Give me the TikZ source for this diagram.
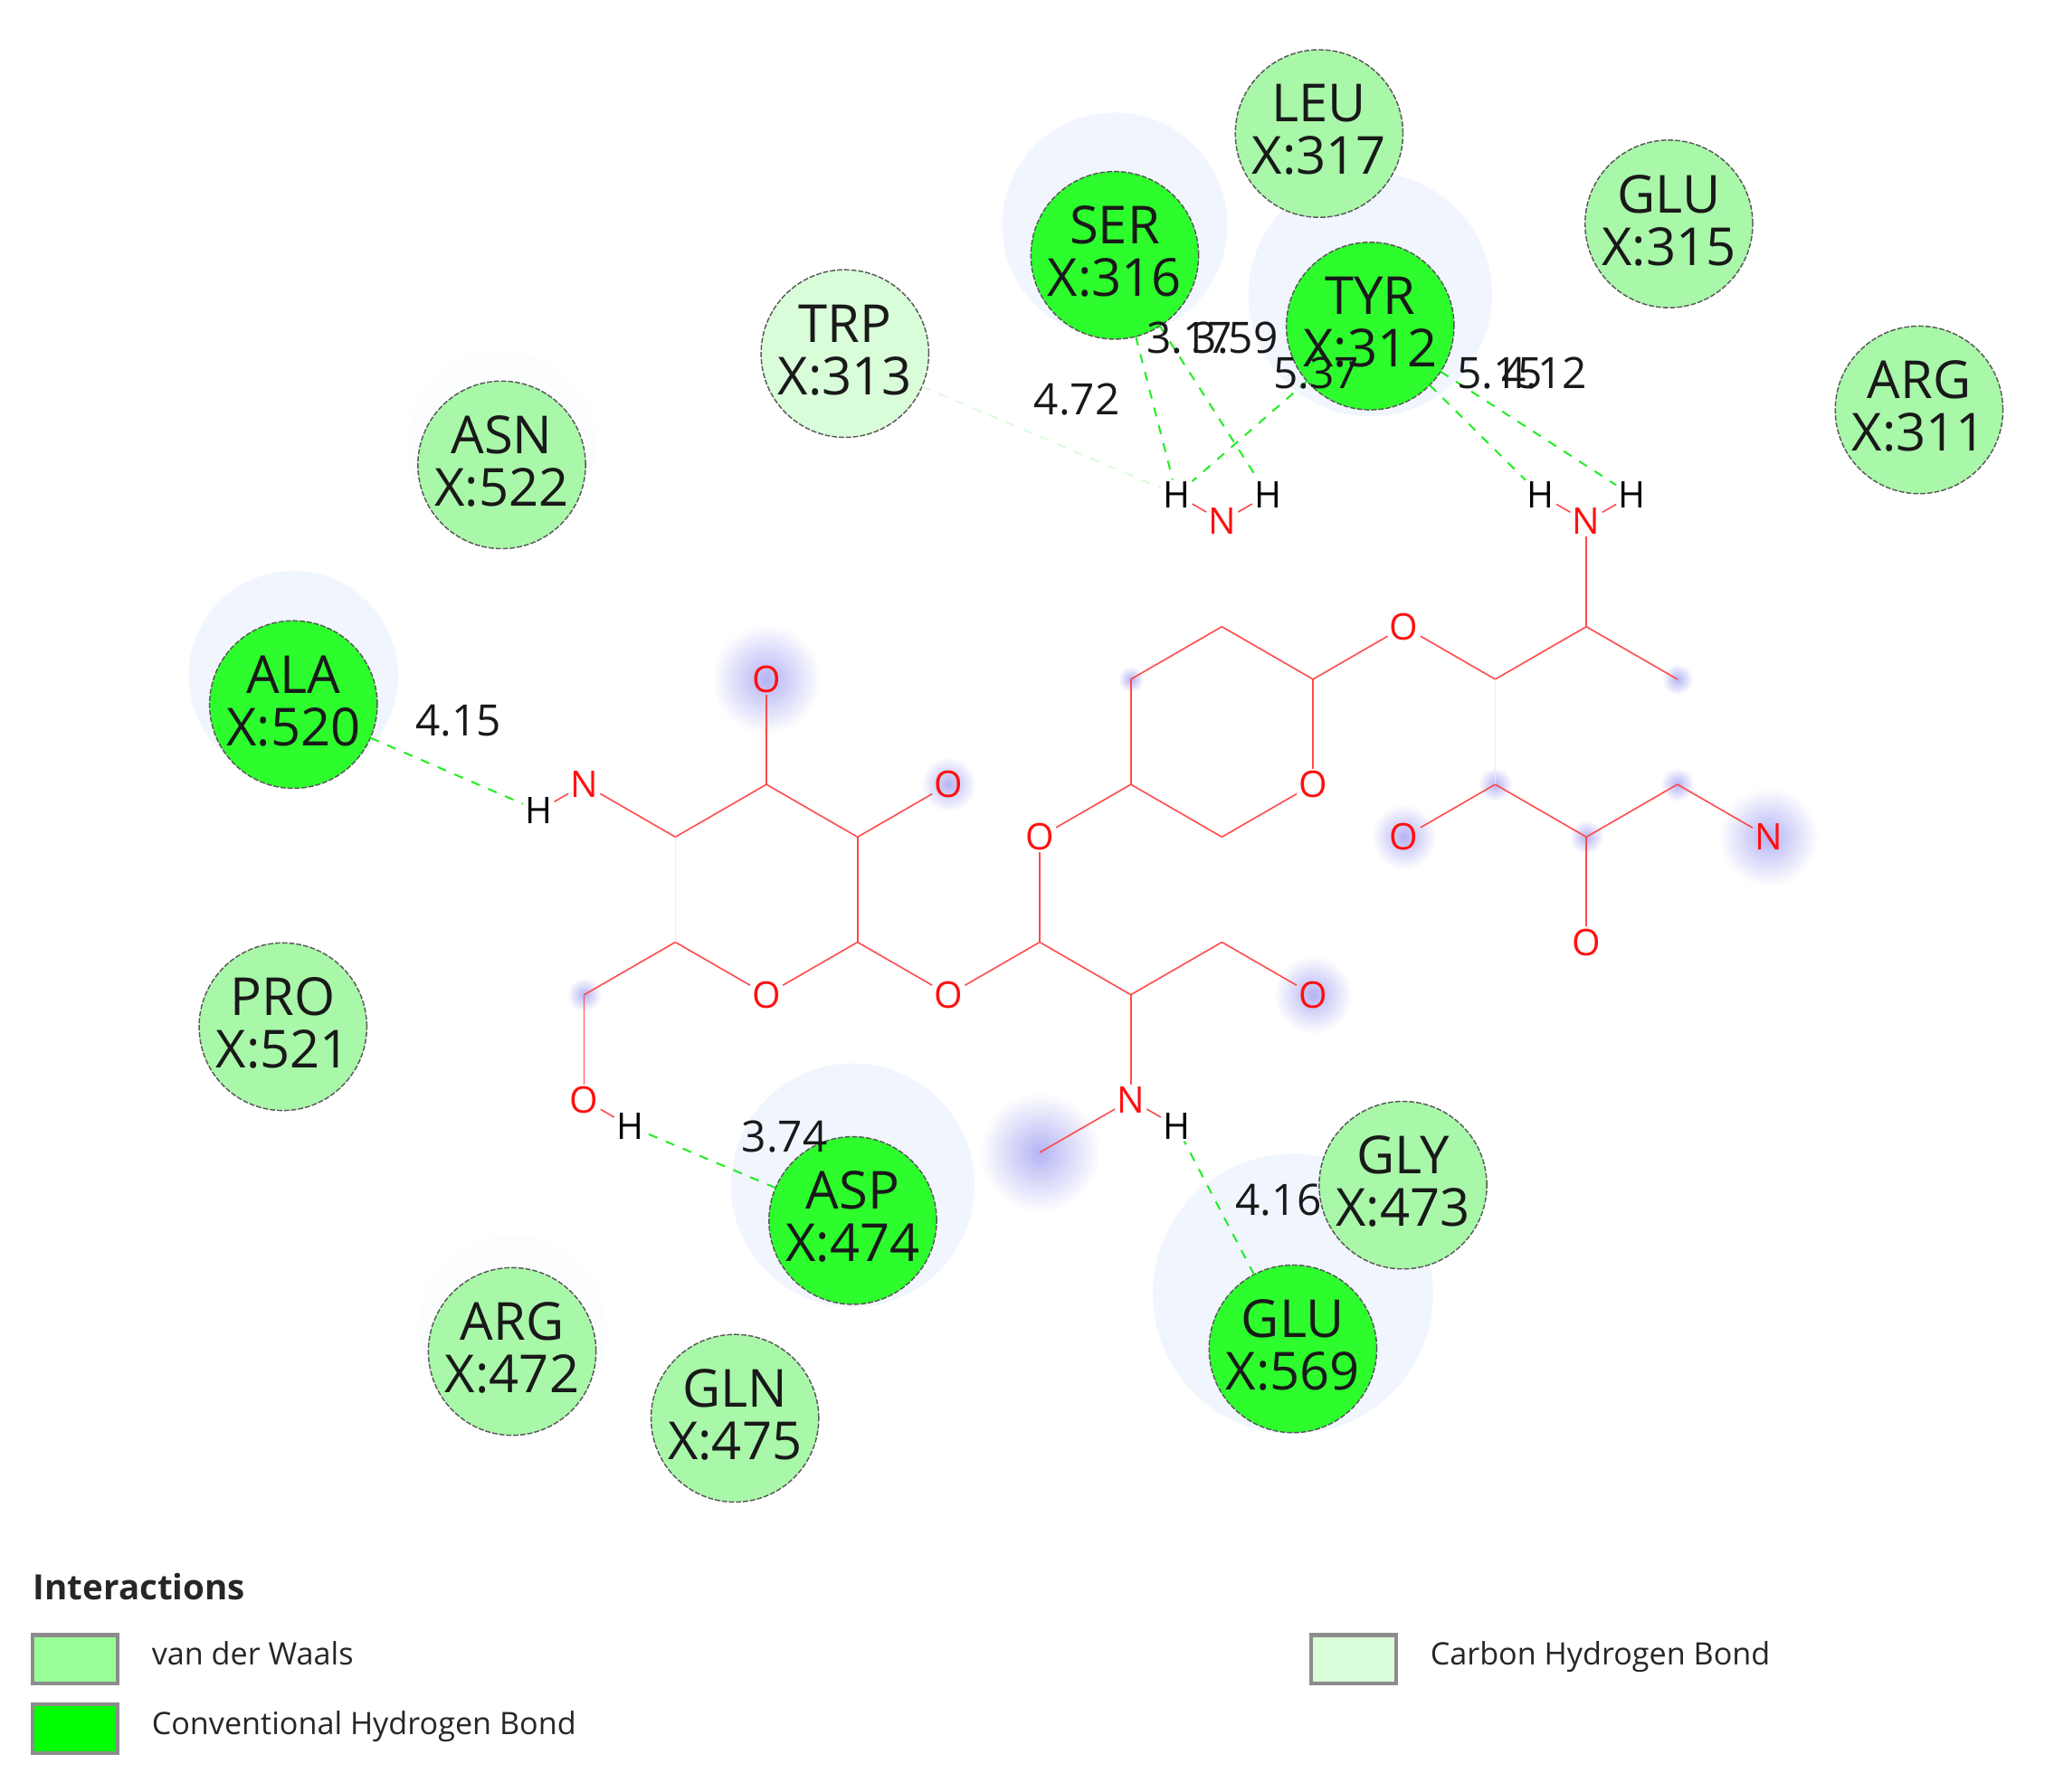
\documentclass[tikz,border=0pt]{standalone}
\usepackage{fontspec}
\setmainfont{Open Sans}
\usetikzlibrary{positioning,backgrounds}
\definecolor{vdwFill}{HTML}{A9F7A9}
\definecolor{vdwSwatch}{HTML}{99FF99}
\definecolor{hbondFill}{HTML}{2DFC2D}
\definecolor{carbonFill}{HTML}{D9FCD9}
\definecolor{haloFill}{HTML}{F1F5FE}
\definecolor{haloFaint}{HTML}{FCFDFF}
\definecolor{glowBlue}{HTML}{B4B4F4}
\definecolor{bondRed}{HTML}{FF4A4A}
\definecolor{bondPale}{HTML}{FFE4E4}
\definecolor{atomRed}{HTML}{FF1010}
\definecolor{dashGreen}{HTML}{22EE22}
\definecolor{dashPale}{HTML}{DDFADD}
\newdimen\bondDist
\bondDist=40.15pt

\begin{document}
\begin{tikzpicture}[
    x=0.5pt,y=0.5pt,
    residue/.style={%
      draw=black!65,
      circle,
      dash pattern=on 2pt off 0.7pt,
      line width=0.5pt,
      minimum size=64pt,
      inner sep=0pt,
      outer sep=0pt,
      align=center,
      text=black!90,
      text depth=3pt,
      font=\fontsize{20}{20}\selectfont,
    },
    resVdw/.style={residue,fill=vdwFill},
    resHbond/.style={residue,fill=hbondFill},
    resCarbon/.style={residue,fill=carbonFill},
    halo/.style={%
      circle,
      fill=haloFill,
      inner sep=0pt,
    },
    faintHalo/.style={halo,fill=haloFaint},
    glow/.style={%
      circle,
      inner sep=0pt,
      shade,
      inner color=glowBlue,
      outer color=white,
    },
    atom/.style={%
      inner sep=0.6pt,
      text=atomRed,
      font=\fontsize{14}{14}\selectfont,
    },
    hydrogen/.style={atom,text=black},
    carbon/.style={%
      inner sep=0pt,
      minimum size=0pt,
      outer sep=0pt,
    },
    bond/.style={%
      draw=bondRed,
      line width=0.55pt,
    },
    paleBond/.style={bond,draw=bondPale},
    hbond/.style={%
      draw=dashGreen,
      line width=0.7pt,
      dash pattern=on 3.5pt off 3.5pt,
    },
    chbond/.style={hbond,draw=dashPale},
    dist/.style={%
      inner sep=0pt,
      text=black!90,
      font=\fontsize{16.5}{16.5}\selectfont,
    },
    swatch/.style={%
      draw=black!45,
      rectangle,
      line width=1.5pt,
      minimum width=32.5pt,
      minimum height=18.5pt,
      inner sep=0pt,
    },
    legendText/.style={%
      inner sep=0pt,
      text height=9pt,
      text depth=2.5pt,
      yshift=1pt,
      text=black!85,
      font=\fontsize{11.8}{12}\selectfont,
    },
  ]

    \useasboundingbox (0,0) rectangle (1568,1368);

    \node [resVdw] (LEU) at (1007,1266) {LEU\\X:317};
    \node [resVdw] (GLUa) at (1274,1197) {GLU\\X:315};
    \node [resVdw] (ARGa) at (1465,1055) {ARG\\X:311};
    \node [resHbond] (TYR) at (1046,1119) {TYR\\X:312};
    \node [resHbond] (SER) at (851,1173) {SER\\X:316};
    \node [resCarbon] (TRP) at (645,1098) {TRP\\X:313};
    \node [resVdw] (ASN) at (383,1013) {ASN\\X:522};
    \node [resHbond] (ALA) at (224,830) {ALA\\X:520};
    \node [resVdw] (PRO) at (216,584) {PRO\\X:521};
    \node [resHbond] (ASP) at (651,436) {ASP\\X:474};
    \node [resVdw] (ARGb) at (391,336) {ARG\\X:472};
    \node [resVdw] (GLN) at (561,285) {GLN\\X:475};
    \node [resVdw] (GLY) at (1071,463) {GLY\\X:473};
    \node [resHbond] (GLUb) at (987,338) {GLU\\X:569};

    \node [atom] (N1) at (446,769) {N};
    \path (N1) ++(-150:0.5\bondDist) node [hydrogen] (H2) {H};
    \path (N1) ++(-30:\bondDist) node [carbon] (C1) {};
    \path (C1) ++(30:\bondDist) node [carbon] (C2) {};
    \path (C2) ++(90:\bondDist) node [atom] (O1) {O};
    \path (C2) ++(-30:\bondDist) node [carbon] (C3) {};
    \path (C3) ++(30:\bondDist) node [atom] (O2) {O};
    \path (C3) ++(-90:\bondDist) node [carbon] (C4) {};
    \path (C4) ++(-150:\bondDist) node [atom] (O3) {O};
    \path (O3) ++(150:\bondDist) node [carbon] (C5) {};
    \path (C5) ++(-150:\bondDist) node [carbon] (C6) {};
    \path (C6) ++(-90:\bondDist) node [atom] (O4) {O};
    \path (O4) ++(-30:0.5\bondDist) node [hydrogen] (H1) {H};
    \path (C4) ++(-30:\bondDist) node [atom] (O5) {O};
    \path (O5) ++(30:\bondDist) node [carbon] (C7) {};
    \path (C7) ++(90:\bondDist) node [atom] (O6) {O};
    \path (O6) ++(30:\bondDist) node [carbon] (C8) {};
    \path (C7) ++(-30:\bondDist) node [carbon] (C9) {};
    \path (C9) ++(30:\bondDist) node [carbon] (C10) {};
    \path (C10) ++(-30:\bondDist) node [atom] (O7) {O};
    \path (C9) ++(-90:\bondDist) node [atom] (N2) {N};
    \path (N2) ++(-150:\bondDist) node [carbon] (C11) {};
    \path (N2) ++(-30:0.5\bondDist) node [hydrogen] (H3) {H};
    \path (C8) ++(90:\bondDist) node [carbon] (C12) {};
    \path (C12) ++(30:\bondDist) node [carbon] (C13) {};
    \path (C13) ++(-30:\bondDist) node [carbon] (C14) {};
    \path (C14) ++(-90:\bondDist) node [atom] (O8) {O};
    \path (O8) ++(-150:\bondDist) node [carbon] (C15) {};
    \path (C14) ++(30:\bondDist) node [atom] (O9) {O};
    \path (O9) ++(-30:\bondDist) node [carbon] (C16) {};
    \path (C16) ++(30:\bondDist) node [carbon] (C17) {};
    \path (C17) ++(-30:\bondDist) node [carbon] (C18) {};
    \path (C17) ++(90:\bondDist) node [atom] (N3) {N};
    \path (N3) ++(150:0.5\bondDist) node [hydrogen] (H4) {H};
    \path (N3) ++(30:0.5\bondDist) node [hydrogen] (H5) {H};
    \path (C16) ++(-90:\bondDist) node [carbon] (C19) {};
    \path (C19) ++(-150:\bondDist) node [atom] (O10) {O};
    \path (C19) ++(-30:\bondDist) node [carbon] (C20) {};
    \path (C20) ++(-90:\bondDist) node [atom] (O11) {O};
    \path (C20) ++(30:\bondDist) node [carbon] (C21) {};
    \path (C21) ++(-30:\bondDist) node [atom] (N4) {N};
    \node [atom] (N5) at (933,970) {N};
    \path (N5) ++(150:0.5\bondDist) node [hydrogen] (H6) {H};
    \path (N5) ++(30:0.5\bondDist) node [hydrogen] (H7) {H};

    \draw [bond] (N1) -- (C1);
    \draw [bond] (N1) -- (H2);
    \draw [bond] (C1) -- (C2);
    \draw [bond] (C2) -- (O1);
    \draw [bond] (C2) -- (C3);
    \draw [bond] (C3) -- (O2);
    \draw [bond] (C3) -- (C4);
    \draw [bond] (C4) -- (O3);
    \draw [bond] (O3) -- (C5);
    \draw [paleBond] (C5) -- (C1);
    \draw [bond] (C5) -- (C6);
    \draw [bond] (C6) -- (O4);
    \draw [bond] (O4) -- (H1);
    \draw [bond] (C4) -- (O5);
    \draw [bond] (O5) -- (C7);
    \draw [bond] (C7) -- (O6);
    \draw [bond] (O6) -- (C8);
    \draw [bond] (C7) -- (C9);
    \draw [bond] (C9) -- (C10);
    \draw [bond] (C10) -- (O7);
    \draw [bond] (C9) -- (N2);
    \draw [bond] (N2) -- (C11);
    \draw [bond] (N2) -- (H3);
    \draw [bond] (C8) -- (C12);
    \draw [bond] (C12) -- (C13);
    \draw [bond] (C13) -- (C14);
    \draw [bond] (C14) -- (O8);
    \draw [bond] (O8) -- (C15);
    \draw [bond] (C15) -- (C8);
    \draw [bond] (C14) -- (O9);
    \draw [bond] (O9) -- (C16);
    \draw [bond] (C16) -- (C17);
    \draw [bond] (C17) -- (C18);
    \draw [bond] (C17) -- (N3);
    \draw [bond] (N3) -- (H4);
    \draw [bond] (N3) -- (H5);
    \draw [paleBond] (C16) -- (C19);
    \draw [bond] (C19) -- (O10);
    \draw [bond] (C19) -- (C20);
    \draw [bond] (C20) -- (O11);
    \draw [bond] (C20) -- (C21);
    \draw [bond] (C21) -- (N4);
    \draw [bond] (N5) -- (H6);
    \draw [bond] (N5) -- (H7);

    \draw [hbond] (SER) -- (H6);
    \draw [hbond] (SER) -- (H7);
    \draw [hbond] (TYR) -- (H6);
    \draw [hbond] (TYR) -- (H4);
    \draw [hbond] (TYR) -- (H5);
    \draw [hbond] (ALA) -- (H2);
    \draw [hbond] (ASP) -- (H1);
    \draw [hbond] (GLUb) -- (H3);
    \draw [chbond] (TRP) -- (H6);

    \node [dist] (distTRP) at (822,1063) {4.72};
    \node [dist] (distSERa) at (908,1110) {3.17};
    \node [dist] (distSERb) at (943,1110) {3.59};
    \node [dist] (distTYRa) at (1005,1083) {5.37};
    \node [dist] (distTYRb) at (1145,1083) {5.15};
    \node [dist] (distTYRc) at (1179,1083) {4.12};
    \node [dist] (distALA) at (350,818) {4.15};
    \node [dist] (distASP) at (599,500) {3.74};
    \node [dist] (distGLU) at (976,452) {4.16};

    \node [legendText,anchor=west,yshift=-2.5pt,font=\fontsize{13.3}{13.3}\selectfont\bfseries] (title) at (25,156) {Interactions};
    \node [swatch,fill=vdwSwatch] (swVdw) at (57.5,101) {};
    \node [swatch,fill=green] (swHbond) at (57.5,48) {};
    \node [swatch,fill=carbonFill] (swCarbon) at (1033.5,101) {};
    \node [legendText,right=12pt of swVdw] (txtVdw) {van der Waals};
    \node [legendText,right=12pt of swHbond] (txtHbond) {Conventional Hydrogen Bond};
    \node [legendText,right=12pt of swCarbon] (txtCarbon) {Carbon Hydrogen Bond};

    \begin{scope}[on background layer]
      \node [halo,minimum size=86pt] (haloSER) at (851,1196) {};
      \node [halo,minimum size=93pt] (haloTYR) at (1046,1143) {};
      \node [halo,minimum size=80pt] (haloALA) at (224,852) {};
      \node [halo,minimum size=93pt] (haloASP) at (651,463) {};
      \node [halo,minimum size=107pt] (haloGLU) at (987,380) {};
      \node [faintHalo,minimum size=72pt] (haloASN) at (383,1028) {};
      \node [faintHalo,minimum size=72pt] (haloARG) at (391,353) {};
      \node [glow,minimum size=42pt] (glowO1) at (O1) {};
      \node [glow,minimum size=21pt] (glowO2) at (O2) {};
      \node [glow,minimum size=25pt] (glowO10) at (O10) {};
      \node [glow,minimum size=38pt] (glowN4) at (N4) {};
      \node [glow,minimum size=30pt] (glowO7) at (O7) {};
      \node [glow,minimum size=46pt] (glowC11) at (C11) {};
      \node [glow,minimum size=13pt] (glowC6) at (C6) {};
      \node [glow,minimum size=10pt] (glowC12) at (C12) {};
      \node [glow,minimum size=12pt] (glowC18) at (C18) {};
      \node [glow,minimum size=13pt] (glowC19) at (C19) {};
      \node [glow,minimum size=13pt] (glowC20) at (C20) {};
      \node [glow,minimum size=13pt] (glowC21) at (C21) {};
    \end{scope}
\end{tikzpicture}
\end{document}
